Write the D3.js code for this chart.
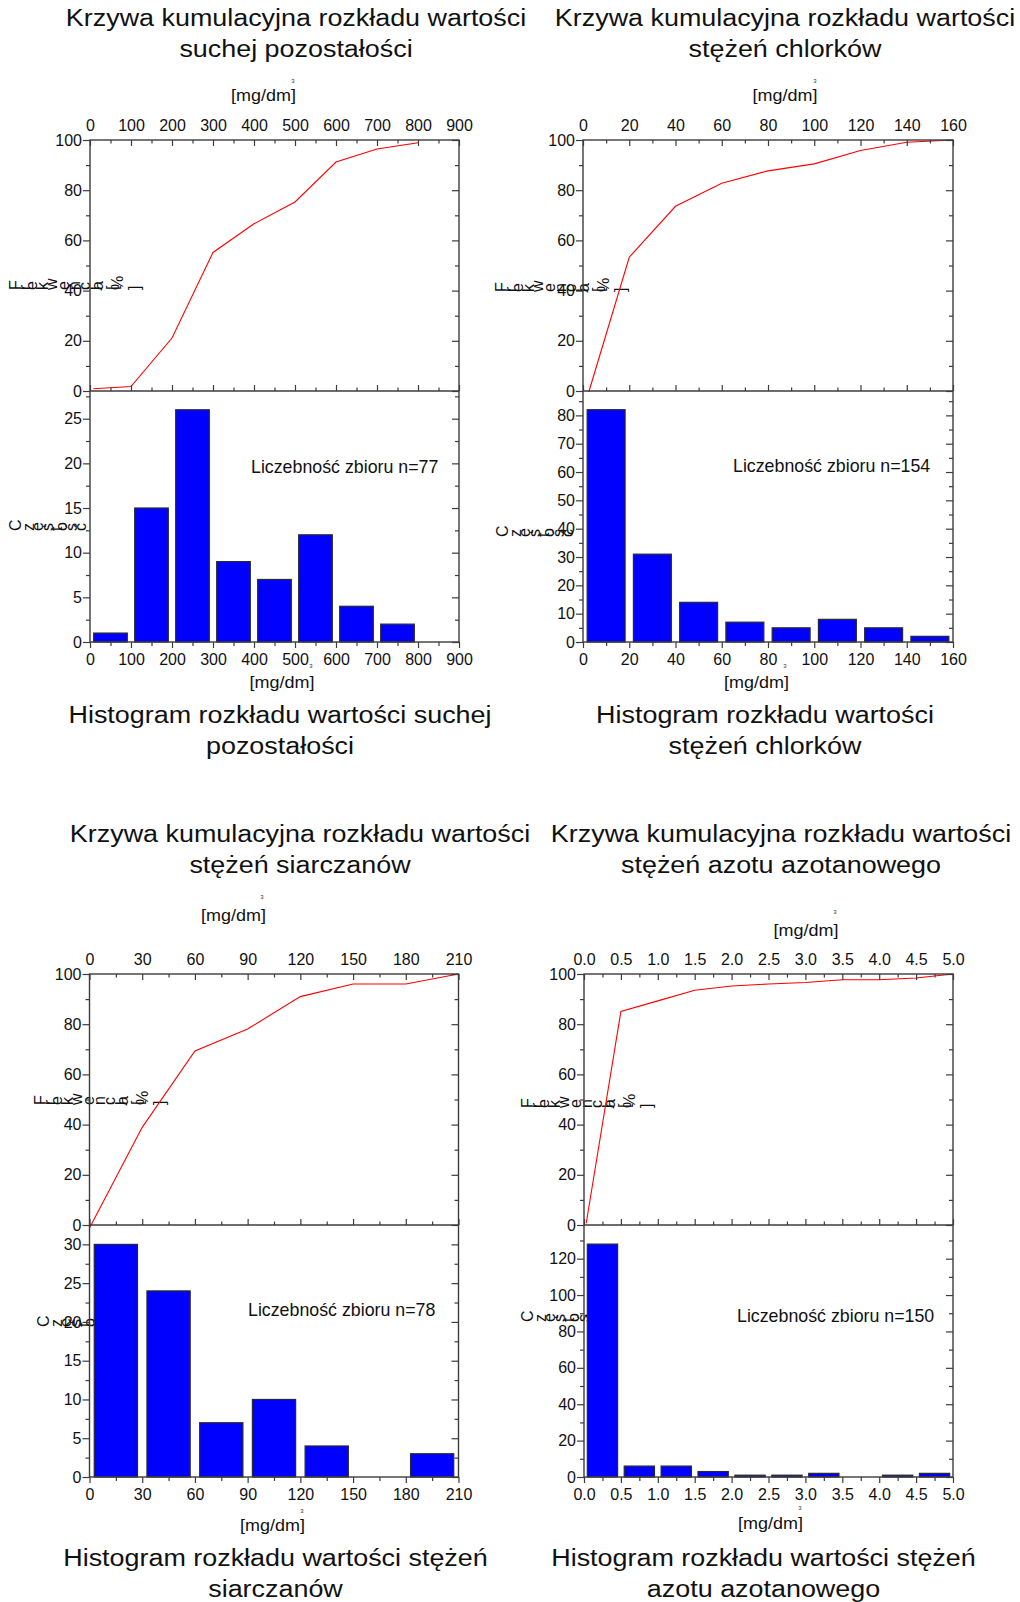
<!DOCTYPE html>
<html>
<head>
<meta charset="utf-8">
<script src="https://cdn.jsdelivr.net/npm/d3@7"></script>
<style>
body { margin: 0; background: #fff; }
svg { display: block; font-family: "Liberation Sans", Arial, sans-serif; }
</style>
</head>
<body>
<svg id="chart"></svg>
<script>
// sucha pozostałość
const suchaEdges = [0, 100, 200, 300, 400, 500, 600, 700, 800, 900]
const suchaCounts = [1, 15, 26, 9, 7, 12, 4, 2, 0]
const suchaCumX = [8, 100, 200, 300, 400, 500, 600, 700, 800]
const suchaCumY = [0.9, 1.8, 21.1, 55.2, 66.6, 75.3, 91.2, 96.4, 98.9]

// chlorki
const chlorEdges = [0, 20, 40, 60, 80, 100, 120, 140, 160]
const chlorCounts = [82, 31, 14, 7, 5, 8, 5, 2]
const chlorCumX = [2.5, 20, 40, 60, 80, 100, 120, 140, 160]
const chlorCumY = [-0.4, 53.3, 73.6, 82.8, 87.7, 90.5, 95.8, 99.1, 100]

// siarczany
const siarEdges = [0, 30, 60, 90, 120, 150, 180, 210]
const siarCounts = [30, 24, 7, 10, 4, 0, 3]
const siarCumX = [0, 30, 60, 90, 120, 150, 180, 210]
const siarCumY = [-1.2, 38.9, 69.3, 78.1, 91.0, 96.0, 96.0, 100]

// azot azotanowy
const azotEdges = [0, 0.5, 1.0, 1.5, 2.0, 2.5, 3.0, 3.5, 4.0, 4.5, 5.0]
const azotCounts = [128, 6, 6, 3, 1, 1, 2, 0, 1, 2]
const azotCumX = [0.03, 0.5, 1.0, 1.5, 2.0, 2.5, 3.0, 3.5, 4.0, 4.5, 5.0]
const azotCumY = [0.7, 85.1, 89.3, 93.5, 95.2, 96.0, 96.6, 97.7, 97.7, 98.4, 100]

const cumTicks = [0, 20, 40, 60, 80, 100]
const cumMinor = [10, 30, 50, 70, 90]

const AXIS = "#3c3c3c"
const W = 1020, H = 1602

const svg = d3.select("#chart").attr("width", W).attr("height", H)
svg.append("rect").attr("width", W).attr("height", H).attr("fill", "#fff")

const panels = [
  {edges: suchaEdges, counts: suchaCounts, cumX: suchaCumX, cumY: suchaCumY,
   xStep: 100, fmt: d3.format("d"), histMax: 28.1, histStep: 5, n: 77,
   left: 90, width: 369, top: 140, mid: 391, bottom: 642,
   title: ["Krzywa kumulacyjna rozkładu wartości", "suchej pozostałości"], titleAt: [296, 26],
   hTitle: ["Histogram rozkładu wartości suchej", "pozostałości"], hTitleAt: [280, 723],
   unitTop: [263.5, 101], supTop: [293, 83], unitBot: [282, 688], supBot: [311, 668],
   nAt: [251, 473], freqAt: [21, 290], countAt: [21, 531]},
  {edges: chlorEdges, counts: chlorCounts, cumX: chlorCumX, cumY: chlorCumY,
   xStep: 20, fmt: d3.format("d"), histMax: 88.6, histStep: 10, n: 154,
   left: 583, width: 370, top: 140, mid: 391, bottom: 642,
   title: ["Krzywa kumulacyjna rozkładu wartości", "stężeń chlorków"], titleAt: [785, 26],
   hTitle: ["Histogram rozkładu wartości", "stężeń chlorków"], hTitleAt: [765, 723],
   unitTop: [785, 101], supTop: [815, 83], unitBot: [756.5, 688], supBot: [785, 668],
   nAt: [733, 472], freqAt: [507, 292], countAt: [508, 537]},
  {edges: siarEdges, counts: siarCounts, cumX: siarCumX, cumY: siarCumY,
   xStep: 30, fmt: d3.format("d"), histMax: 32.5, histStep: 5, n: 78,
   left: 89.5, width: 369, top: 974, mid: 1225, bottom: 1477,
   title: ["Krzywa kumulacyjna rozkładu wartości", "stężeń siarczanów"], titleAt: [300, 842],
   hTitle: ["Histogram rozkładu wartości stężeń", "siarczanów"], hTitleAt: [275.5, 1566],
   unitTop: [233.5, 921], supTop: [262, 899], unitBot: [272.5, 1531], supBot: [302, 1513],
   nAt: [248, 1316], freqAt: [46, 1105], countAt: [49, 1327]},
  {edges: azotEdges, counts: azotCounts, cumX: azotCumX, cumY: azotCumY,
   xStep: 0.5, fmt: d3.format(".1f"), histMax: 138.5, histStep: 20, n: 150,
   left: 584, width: 369, top: 974, mid: 1225, bottom: 1477,
   title: ["Krzywa kumulacyjna rozkładu wartości", "stężeń azotu azotanowego"], titleAt: [781, 842],
   hTitle: ["Histogram rozkładu wartości stężeń", "azotu azotanowego"], hTitleAt: [763.5, 1566],
   unitTop: [806, 936], supTop: [835, 914], unitBot: [770.5, 1529], supBot: [800, 1510],
   nAt: [737, 1322], freqAt: [533, 1108], countAt: [533, 1322]}
]

// a vertical label whose letters were laid out side by side, each one turned on its side
function brokenLabel(g, str, x0, y0) {
  const fs = 16, k = 1.13
  const probe = g.append("text").style("font-size", fs + "px")
  const base = probe.text(".").node().getComputedTextLength()
  const chars = Array.from(str)
  chars.forEach((ch, i) => {
    probe.text(chars.slice(0, i).join("") + ".")
    const adv = probe.node().getComputedTextLength() - base
    if (ch === " ") return
    g.append("text")
      .attr("transform", `translate(${x0 + adv * k},${y0}) rotate(-90)`)
      .style("font-size", fs + "px")
      .attr("fill", "#111")
      .text(ch)
  })
  probe.remove()
}

function styleAxis(sel) {
  sel.attr("font-family", null).attr("font-size", null)
  sel.select(".domain").remove()
  sel.selectAll(".tick line").attr("stroke", AXIS).attr("stroke-width", 1.2)
  sel.selectAll(".tick text").attr("fill", "#111").style("font-size", "16px")
}

function stepRange(lo, hi, step) {
  const n = Math.round((hi - lo) / step)
  return d3.range(0, n + 1).map(i => +(lo + i * step).toFixed(6))
}

function drawPanel(p) {
  const g = svg.append("g")
  const x0 = p.edges[0], x1 = p.edges[p.edges.length - 1]
  const right = p.left + p.width

  const x = d3.scaleLinear().domain([x0, x1]).range([p.left, right])
  const yCum = d3.scaleLinear().domain([0, 100]).range([p.mid, p.top])
  const yHist = d3.scaleLinear().domain([0, p.histMax]).range([p.bottom, p.mid])

  const xMajor = stepRange(x0, x1, p.xStep)
  const xMinor = xMajor.slice(0, -1).map(v => v + p.xStep / 2)
  const hMajor = stepRange(0, Math.floor(p.histMax / p.histStep) * p.histStep, p.histStep)
  const hMinor = hMajor.map(v => v + p.histStep / 2).filter(v => v < p.histMax - 0.5)

  // labels under the marks, so a tall bar can cover them
  brokenLabel(g, "Frekwencja [%]", p.freqAt[0], p.freqAt[1])
  brokenLabel(g, "Częstość", p.countAt[0], p.countAt[1])

  const bins = p.counts.map((c, i) => ({a: p.edges[i], b: p.edges[i + 1], c})).filter(d => d.c > 0)
  g.selectAll("rect.bar")
    .data(bins)
    .join("rect").classed("bar", true)
    .attr("x", d => x(d.a) + (x(d.b) - x(d.a)) * 0.09)
    .attr("width", d => (x(d.b) - x(d.a)) * 0.82)
    .attr("y", d => yHist(d.c))
    .attr("height", d => yHist(0) - yHist(d.c))
    .attr("fill", "#0000ff")
    .attr("stroke", "#2a2a2a")
    .attr("stroke-width", 1.2)

  const line = d3.line().x(d => x(d[0])).y(d => yCum(d[1]))
  g.append("path")
    .datum(p.cumX.map((v, i) => [v, p.cumY[i]]))
    .attr("d", line)
    .attr("fill", "none")
    .attr("stroke", "#ff0000")
    .attr("stroke-width", 1.1)

  // frames
  g.append("rect")
    .attr("x", p.left).attr("y", p.top).attr("width", p.width).attr("height", p.bottom - p.top)
    .attr("fill", "none").attr("stroke", AXIS).attr("stroke-width", 1.4)
  g.append("line")
    .attr("x1", p.left).attr("x2", right).attr("y1", p.mid).attr("y2", p.mid)
    .attr("stroke", AXIS).attr("stroke-width", 1.4)

  const add = (axis, tx, ty) => g.append("g").attr("transform", `translate(${tx},${ty})`).call(axis).call(styleAxis)

  // x axes
  add(d3.axisTop(x).tickValues(xMajor).tickSize(-6).tickPadding(9).tickFormat(p.fmt), 0, p.top)
  add(d3.axisTop(x).tickValues(xMinor).tickSize(-3.5).tickFormat(""), 0, p.top)
  add(d3.axisBottom(x).tickValues(xMajor).tickSize(-6).tickFormat(""), 0, p.mid)
  add(d3.axisBottom(x).tickValues(xMinor).tickSize(-3.5).tickFormat(""), 0, p.mid)
  add(d3.axisBottom(x).tickValues(xMajor).tickSize(6).tickPadding(6).tickFormat(p.fmt), 0, p.bottom)
  add(d3.axisBottom(x).tickValues(xMinor).tickSize(4).tickFormat(""), 0, p.bottom)

  // y axes, cumulative part
  add(d3.axisLeft(yCum).tickValues(cumTicks).tickSize(7).tickPadding(1), p.left, 0)
  add(d3.axisLeft(yCum).tickValues(cumMinor).tickSize(4).tickFormat(""), p.left, 0)
  add(d3.axisLeft(yCum).tickValues(cumTicks).tickSize(7).tickFormat(""), right, 0)
  add(d3.axisLeft(yCum).tickValues(cumMinor).tickSize(4).tickFormat(""), right, 0)

  // y axes, histogram part
  add(d3.axisLeft(yHist).tickValues(hMajor).tickSize(7).tickPadding(1).tickFormat(d3.format("d")), p.left, 0)
  add(d3.axisLeft(yHist).tickValues(hMinor).tickSize(4).tickFormat(""), p.left, 0)
  add(d3.axisLeft(yHist).tickValues(hMajor).tickSize(7).tickFormat(""), right, 0)
  add(d3.axisLeft(yHist).tickValues(hMinor).tickSize(4).tickFormat(""), right, 0)

  // titles
  const title = (lines, at) => lines.forEach((t, i) => {
    g.append("text")
      .attr("transform", `translate(${at[0]},${at[1] + i * 30.5}) scale(1.17,1)`)
      .attr("text-anchor", "middle")
      .style("font-size", "23px")
      .attr("fill", "#111")
      .text(t)
  })
  title(p.title, p.titleAt)
  title(p.hTitle, p.hTitleAt)

  const unit = (at, sup) => {
    g.append("text")
      .attr("transform", `translate(${at[0]},${at[1]}) scale(1.09,1)`)
      .attr("text-anchor", "middle")
      .style("font-size", "16.5px")
      .attr("fill", "#111")
      .text("[mg/dm]")
    g.append("text")
      .attr("x", sup[0]).attr("y", sup[1])
      .attr("text-anchor", "middle")
      .style("font-size", "6px")
      .attr("fill", "#333")
      .text("3")
  }
  unit(p.unitTop, p.supTop)
  unit(p.unitBot, p.supBot)

  g.append("text")
    .attr("x", p.nAt[0]).attr("y", p.nAt[1])
    .style("font-size", "17.8px")
    .attr("fill", "#111")
    .text(`Liczebność zbioru n=${p.n}`)
}

panels.forEach(drawPanel)
</script>
</body>
</html>
